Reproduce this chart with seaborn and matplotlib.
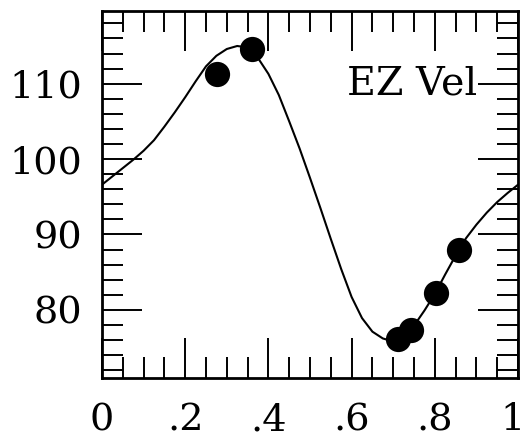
import matplotlib
matplotlib.use("Agg")
import matplotlib.pyplot as plt
from matplotlib.ticker import FixedLocator, MultipleLocator
from matplotlib.transforms import ScaledTranslation
import pandas as pd
import seaborn as sns

# Observed radial velocities against phase
phase_obs = [0.276, 0.360, 0.712, 0.743, 0.802, 0.858]
vel_obs = [111.3, 114.6, 76.1, 77.3, 82.2, 88.0]

# Fitted velocity curve sampled over one cycle
phase_fit = [0.000, 0.025, 0.050, 0.075, 0.100, 0.125, 0.150, 0.175, 0.200,
             0.225, 0.250, 0.275, 0.300, 0.325, 0.350, 0.375, 0.400, 0.425,
             0.450, 0.475, 0.500, 0.525, 0.550, 0.575, 0.600, 0.625, 0.650,
             0.675, 0.700, 0.725, 0.750, 0.775, 0.800, 0.825, 0.850, 0.875,
             0.900, 0.925, 0.950, 0.975, 1.000]
vel_fit = [96.6, 97.7, 98.8, 99.9, 101.1, 102.5, 104.3, 106.2, 108.2,
           110.3, 112.3, 113.7, 114.6, 115.0, 114.8, 113.4, 111.3, 108.5,
           105.0, 101.4, 97.5, 93.5, 89.4, 85.4, 81.7, 78.9, 77.1,
           76.2, 75.8, 76.4, 77.9, 79.9, 82.1, 84.7, 87.2, 89.5,
           91.3, 92.9, 94.3, 95.5, 96.6]

x_ticks = [0.0, 0.2, 0.4, 0.6, 0.8, 1.0]
x_labels = ["0", ".2", ".4", ".6", ".8", "1"]
y_ticks = [80, 90, 100, 110]
y_labels = ["80", "90", "100", "110"]

sns.set_theme(style="ticks")
plt.rcParams["font.family"] = ["DejaVu Serif"]

fig = plt.figure(figsize=(5.27, 4.40), dpi=100)
ax = fig.add_axes([0.1935, 0.140, 0.7895, 0.836])

fit_df = pd.DataFrame({"phase": phase_fit, "vel": vel_fit})
obs_df = pd.DataFrame({"phase": phase_obs, "vel": vel_obs})

sns.lineplot(data=fit_df, x="phase", y="vel", ax=ax, color="black",
             linewidth=1.5, sort=False, solid_joinstyle="round")
sns.scatterplot(data=obs_df, x="phase", y="vel", ax=ax, color="black",
                s=330, edgecolor="black", linewidth=0, zorder=3)

ax.set_xlim(0, 1)
ax.set_ylim(70.9, 119.7)

ax.xaxis.set_major_locator(FixedLocator(x_ticks))
ax.set_xticklabels(x_labels)
ax.xaxis.set_minor_locator(MultipleLocator(0.05))
ax.yaxis.set_major_locator(FixedLocator(y_ticks))
ax.set_yticklabels(y_labels)
ax.yaxis.set_minor_locator(MultipleLocator(2))

ax.tick_params(which="both", direction="in", top=True, right=True,
               color="black", width=1.4, labelsize=27.5, labelcolor="black")
ax.tick_params(which="major", length=29)
ax.tick_params(which="minor", length=15)
ax.tick_params(axis="x", which="major", pad=17)
ax.tick_params(axis="y", which="major", pad=14)

# keep the last phase label inside the figure edge
last = ax.get_xticklabels()[-1]
last.set_transform(last.get_transform() +
                   ScaledTranslation(-4 / 72, 0, fig.dpi_scale_trans))

for sp in ax.spines.values():
    sp.set_visible(True)
    sp.set_color("black")
    sp.set_linewidth(2.0)

ax.set_xlabel("")
ax.set_ylabel("")
ax.text(0.590, 110, "EZ Vel", fontsize=28.5, color="black",
        ha="left", va="center")

fig.savefig("out.png", dpi=100, facecolor="white")
